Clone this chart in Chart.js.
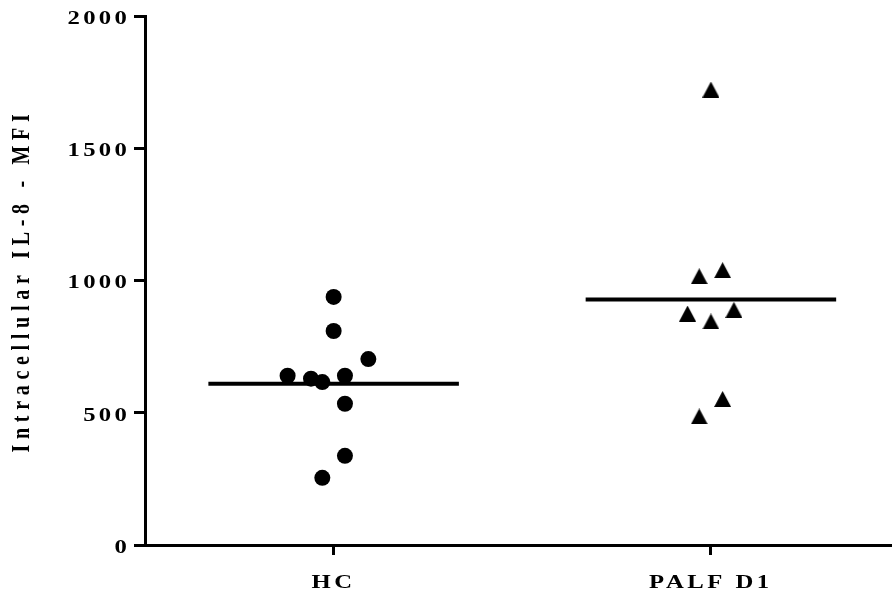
<!DOCTYPE html>
<html>
<head>
<meta charset="utf-8">
<script src="https://cdn.jsdelivr.net/npm/chart.js@4.4.1/dist/chart.umd.min.js"></script>
<style>
  html, body { margin: 0; padding: 0; background: #fff; }
  #wrap { width: 892px; height: 597px; }
</style>
</head>
<body>
<div id="wrap"><canvas id="c" width="892" height="597"></canvas></div>
<script>
// ---- data ----
const categories = ['HC', 'PALF D1'];
const hcValues   = [938, 809, 703, 640, 629, 616, 640, 534, 337, 254];
const hcJitter   = [0, 0, 0.092, -0.122, -0.060, -0.030, 0.030, 0.030, 0.030, -0.030];
const palfValues = [1722, 1016, 1039, 875, 845, 889, 552, 486];
const palfJitter = [0, -0.031, 0.031, -0.062, 0, 0.061, 0.031, -0.031];
const yTicks     = [0, 500, 1000, 1500, 2000];
const yTitle     = 'Intracellular IL-8 - MFI';

// ---- helpers ----
const mean = a => a.reduce((s, v) => s + v, 0) / a.length;
const toPoints = (vals, jit, cx) => vals.map((v, i) => ({ x: cx + jit[i], y: v }));
const HALF = 0.332;
const meanLine = (vals, cx) => [{ x: cx - HALF, y: mean(vals) }, { x: cx + HALF, y: mean(vals) }];

// triangle marker
const tri = document.createElement('canvas');
tri.width = 17; tri.height = 16;
(function () {
  const g = tri.getContext('2d');
  g.fillStyle = '#000';
  g.beginPath();
  g.moveTo(8.5, 0); g.lineTo(17, 16); g.lineTo(0, 16); g.closePath();
  g.fill();
})();

const FAMILY = '"Liberation Serif", "Times New Roman", serif';
const TITLE_SP = '5.7px';
const STRETCH = 1.3;

const spacing = {
  id: 'spacing',
  beforeUpdate(c) { c.ctx.letterSpacing = TITLE_SP; },
  beforeLayout(c) { c.ctx.letterSpacing = TITLE_SP; },
  beforeDraw(c) { c.ctx.letterSpacing = TITLE_SP; },
  resize(c) { c.ctx.letterSpacing = TITLE_SP; }
};

const canvas = document.getElementById('c');
const ctx = canvas.getContext('2d');
// text in the reference is set in a horizontally widened face: stretch text along screen x
const origFill = CanvasRenderingContext2D.prototype.fillText;
ctx.fillText = function (text, x, y, maxWidth) {
  const t = this.getTransform();
  const X = t.a * x + t.c * y + t.e;
  this.save();
  if (t.b === 0 && t.c === 0) {
    this.letterSpacing = this.textAlign === 'right' ? '2.5px' : '2.7px';
  }
  this.setTransform(STRETCH, 0, 0, 1, X * (1 - STRETCH), 0);
  this.transform(t.a, t.b, t.c, t.d, t.e, t.f);
  origFill.call(this, text, x, y);
  this.restore();
};

new Chart(canvas, {
  type: 'scatter',
  data: {
    datasets: [
      { label: categories[0], data: toPoints(hcValues, hcJitter, 0), pointStyle: 'circle',
        pointRadius: 8, pointHoverRadius: 8, backgroundColor: '#000', borderColor: '#000', borderWidth: 0 },
      { label: categories[1], data: toPoints(palfValues, palfJitter, 1), pointStyle: tri,
        pointRadius: 8, backgroundColor: '#000', borderColor: '#000', borderWidth: 0 },
      { type: 'line', label: 'HC mean', data: meanLine(hcValues, 0), borderColor: '#000',
        borderWidth: 4, pointRadius: 0, fill: false },
      { type: 'line', label: 'PALF mean', data: meanLine(palfValues, 1), borderColor: '#000',
        borderWidth: 4, pointRadius: 0, fill: false }
    ]
  },
  options: {
    responsive: false,
    animation: false,
    layout: { autoPadding: false, padding: { top: 16, left: 0, right: 0, bottom: 0 } },
    plugins: { legend: { display: false }, tooltip: { enabled: false } },
    scales: {
      x: {
        type: 'linear', min: -0.5, max: 1.48,
        afterBuildTicks: s => { s.ticks = categories.map((_, i) => ({ value: i })); },
        afterFit: s => { s.height = 52; },
        border: { display: true, color: '#000', width: 3 },
        grid: { display: true, drawOnChartArea: false, drawTicks: true, tickLength: 10, tickWidth: 3, tickColor: '#000' },
        ticks: { color: '#000', font: { family: FAMILY, size: 19, weight: 'bold' }, padding: 17, maxRotation: 0,
                 callback: v => categories[v] }
      },
      y: {
        type: 'linear', min: 0, max: 2000,
        afterBuildTicks: s => { s.ticks = yTicks.map(v => ({ value: v })); },
        afterFit: s => { s.width = 145; },
        border: { display: true, color: '#000', width: 3 },
        grid: { display: true, drawOnChartArea: false, drawTicks: true, tickLength: 11, tickWidth: 3, tickColor: '#000' },
        ticks: { color: '#000', font: { family: FAMILY, size: 19, weight: 'bold' }, padding: 4, labelOffset: 3,
                 callback: v => String(v) },
        title: { display: true, text: yTitle, color: '#000', font: { family: FAMILY, size: 20, weight: 'bold' },
                 padding: { top: 10, bottom: 0 } }
      }
    }
  },
  plugins: [spacing]
});
</script>
</body>
</html>
